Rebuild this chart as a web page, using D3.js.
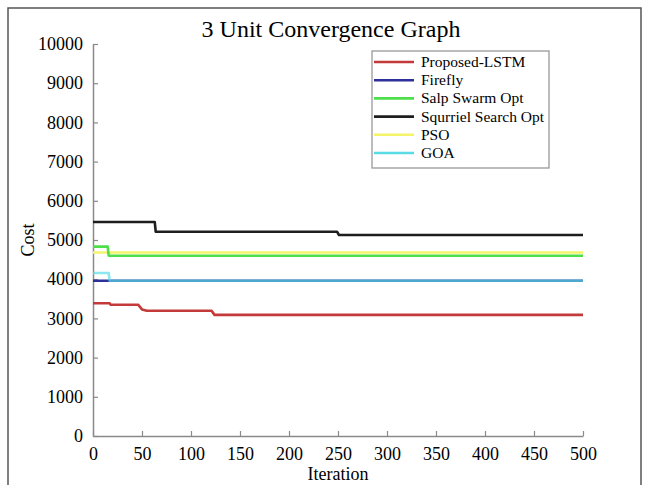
<!DOCTYPE html>
<html>
<head>
<meta charset="utf-8">
<script src="https://cdn.jsdelivr.net/npm/d3@7"></script>
<style>
  html, body { margin: 0; padding: 0; background: #fff; }
  svg { display: block; }
  svg text { font-family: "Liberation Serif", "Times New Roman", serif; }
</style>
</head>
<body>
<div id="chart"></div>
<script>
// Convergence traces: [iteration, cost] breakpoints for each optimiser
const seriesNames = ["Proposed-LSTM", "Firefly", "Salp Swarm Opt", "Squrriel Search Opt", "PSO", "GOA"];
const seriesColors = ["#c43a3a", "#2d2f9a", "#4ede4a", "#1e1e1e", "#f4f46a", "#5adce6"];

const lstmCost    = [[0, 3385], [17, 3385], [18, 3350], [46, 3350], [50, 3230], [55, 3195], [121, 3195], [124, 3090], [500, 3090]];
const fireflyCost = [[0, 3960], [500, 3960]];
const salpCost    = [[0, 4830], [15, 4830], [16, 4600], [500, 4600]];
const squirrelCost = [[0, 5460], [63, 5460], [64, 5212], [249, 5212], [251, 5128], [500, 5128]];
const psoCost     = [[0, 4680], [500, 4680]];
const goaCost     = [[0, 4160], [16, 4160], [17, 3960], [500, 3960]];

const seriesValues = [lstmCost, fireflyCost, salpCost, squirrelCost, psoCost, goaCost];
// drawing order: later entries paint on top
const drawOrder = [4, 2, 3, 1, 5, 0];

const xTicks = [0, 50, 100, 150, 200, 250, 300, 350, 400, 450, 500];
const yTicks = [0, 1000, 2000, 3000, 4000, 5000, 6000, 7000, 8000, 9000, 10000];

const W = 646, H = 485;
const plot = { left: 93, right: 583, top: 44, bottom: 436 };
const serif = "Liberation Serif, Times New Roman, serif";

const svg = d3.select("#chart").append("svg")
  .attr("width", W).attr("height", H);

// outer frame
svg.append("rect")
  .attr("x", 8).attr("y", 8)
  .attr("width", 633).attr("height", 490)
  .attr("fill", "#fff")
  .attr("stroke", "#555").attr("stroke-width", 1.5);

const x = d3.scaleLinear().domain([0, 500]).range([plot.left, plot.right]);
const y = d3.scaleLinear().domain([0, 10000]).range([plot.bottom, plot.top]);

// axes with inward ticks
const fmt = d3.format("d");
const xAxis = d3.axisBottom(x).tickValues(xTicks).tickFormat(fmt).tickSizeInner(-5).tickSizeOuter(0).tickPadding(11);
const yAxis = d3.axisLeft(y).tickValues(yTicks).tickFormat(fmt).tickSizeInner(-5).tickSizeOuter(0).tickPadding(10);

const gx = svg.append("g").attr("transform", `translate(0,${plot.bottom})`).call(xAxis);
const gy = svg.append("g").attr("transform", `translate(${plot.left},0)`).call(yAxis);

[gx, gy].forEach(g => {
  g.attr("font-family", serif).attr("font-size", 18);
  g.select(".domain").attr("stroke", "#8a8a8a").attr("stroke-width", 1.5);
  g.selectAll(".tick line").attr("stroke", "#8a8a8a").attr("stroke-width", 1.2);
  g.selectAll(".tick text")
    .attr("fill", "#000")
    .style("font-family", serif)
    .style("font-size", "18px");
});

// lines
const line = d3.line().x(d => x(d[0])).y(d => y(d[1]));
const gl = svg.append("g");
drawOrder.forEach(i => {
  gl.append("path")
    .datum(seriesValues[i])
    .attr("d", line)
    .attr("fill", "none")
    .attr("stroke", seriesColors[i])
    .attr("stroke-width", 2.6)
    .attr("stroke-opacity", i === 5 ? 0.7 : 1)
    .attr("stroke-linejoin", "round");
});

// title and axis labels
svg.append("text")
  .attr("x", 331).attr("y", 37)
  .attr("text-anchor", "middle")
  .style("font-size", "24px")
  .text("3 Unit Convergence Graph");

svg.append("text")
  .attr("x", (plot.left + plot.right) / 2).attr("y", 480)
  .attr("text-anchor", "middle")
  .style("font-size", "18px")
  .text("Iteration");

svg.append("text")
  .attr("transform", `translate(34,${(plot.top + plot.bottom) / 2}) rotate(-90)`)
  .attr("text-anchor", "middle")
  .style("font-size", "18px")
  .text("Cost");

// legend
const lg = svg.append("g");
lg.append("rect")
  .attr("x", 372).attr("y", 51)
  .attr("width", 177).attr("height", 117)
  .attr("fill", "#fff")
  .attr("stroke", "#999").attr("stroke-width", 1.3);

seriesNames.forEach((name, i) => {
  const cy = 62 + i * 18.2;
  lg.append("line")
    .attr("x1", 374).attr("x2", 414)
    .attr("y1", cy).attr("y2", cy)
    .attr("stroke", seriesColors[i])
    .attr("stroke-width", 2.6);
  lg.append("text")
    .attr("x", 421).attr("y", cy + 5)
    .style("font-size", "15.5px")
    .text(name);
});
</script>
</body>
</html>
